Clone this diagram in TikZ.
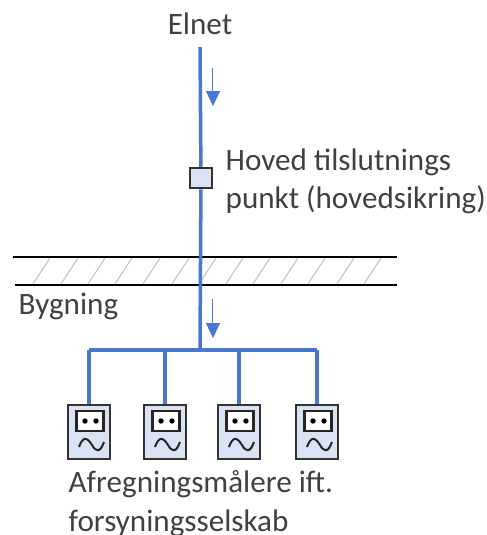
\documentclass[tikz,border=0pt]{standalone}
\usepackage{fontspec}
\setmainfont{Carlito}
\usetikzlibrary{calc,arrows.meta,positioning}
\definecolor{feedblue}{RGB}{72,120,205}
\definecolor{boxfill}{RGB}{218,227,243}
\definecolor{labelgrey}{RGB}{64,64,64}
\tikzset{
	feeder/.style={feedblue,line width=0.035cm},
	flowarrow/.style={feedblue,line width=0.01cm,-{Triangle[width=0.14cm,length=0.15cm]}},
	wall/.style={black,line width=0.018cm},
	hatching/.style={black!25,line width=0.01cm},
	meterbox/.style={draw=black!80,fill=boxfill,line width=0.02cm,minimum width=0.42cm,minimum height=0.53cm,inner sep=0pt},
	meterwindow/.style={draw=black!85,fill=white,line width=0.022cm,minimum width=0.27cm,minimum height=0.2cm,inner sep=0pt},
	fusebox/.style={draw=black!80,fill=boxfill,line width=0.025cm,minimum width=0.22cm,minimum height=0.2cm,inner sep=0pt},
	lbl/.style={text=labelgrey,font=\fontsize{8.85pt}{10.8pt}\selectfont,inner sep=0pt}
}
\begin{document}
\begin{tikzpicture}[x=0.01cm,y=-0.01cm]
	\useasboundingbox (0,0) rectangle (487,535);
	% walls and hatching
	\foreach \hx in {33,61,88,115,143,172,199,226,253,281,308,337,364}
		\draw[hatching] (\hx,284)--(\hx+17,258);
	\coordinate (wallAl) at (13,257);
	\coordinate (wallAr) at (397,257);
	\coordinate (wallBl) at (15,285);
	\coordinate (wallBr) at (397,285);
	\draw[wall] (wallAl)--(wallAr);
	\draw[wall] (wallBl)--(wallBr);
	% feeder
	\node[lbl,anchor=base] (elnet) at (200,34) {Elnet};
	\coordinate (top) at (200,47);
	\coordinate (busC) at (200,350);
	\coordinate (busL) at (89,350);
	\coordinate (busR) at (317,350);
	\node[fusebox] (fuse) at (201,178) {};
	\draw[feeder] (top)--(fuse);
	\draw[feeder] (fuse)--(busC);
	\draw[feeder] (busL)--(busR);
	\coordinate (arrowAs) at (213,68);
	\coordinate (arrowAe) at (213,106);
	\coordinate (arrowBs) at (213,299);
	\coordinate (arrowBe) at (213,338);
	\draw[flowarrow] (arrowAs)--(arrowAe);
	\draw[flowarrow] (arrowBs)--(arrowBe);
	% meters
	\foreach \mx/\mn in {89/1,165/2,239/3,317/4}{
		\node[meterbox] (meter\mn) at (\mx,432) {};
		\draw[feeder] (\mx,350)--(meter\mn.north);
		\node[meterwindow] (window\mn) at (\mx+1,421) {};
		\fill[black] (\mx-4,421) circle (2.7);
		\fill[black] (\mx+7,421) circle (2.7);
		\draw[black!85,line width=0.02cm] (\mx-10,447) .. controls (\mx-6,436) and (\mx-2,437) .. (\mx+3,445) .. controls (\mx+7,452) and (\mx+11,453) .. (\mx+15,442);
	}
	% labels
	\node[lbl,anchor=base west] (fuselabelA) at (225,170) {Hoved tilslutnings};
	\node[lbl,anchor=base west] (fuselabelB) at (225,208) {punkt (hovedsikring)};
	\node[lbl,anchor=base west] (building) at (18,314) {Bygning};
	\node[lbl,anchor=base west] (meterlabelA) at (68,492) {Afregningsmålere ift.};
	\node[lbl,anchor=base west] (meterlabelB) at (68,531) {forsyningsselskab};
\end{tikzpicture}
\end{document}
